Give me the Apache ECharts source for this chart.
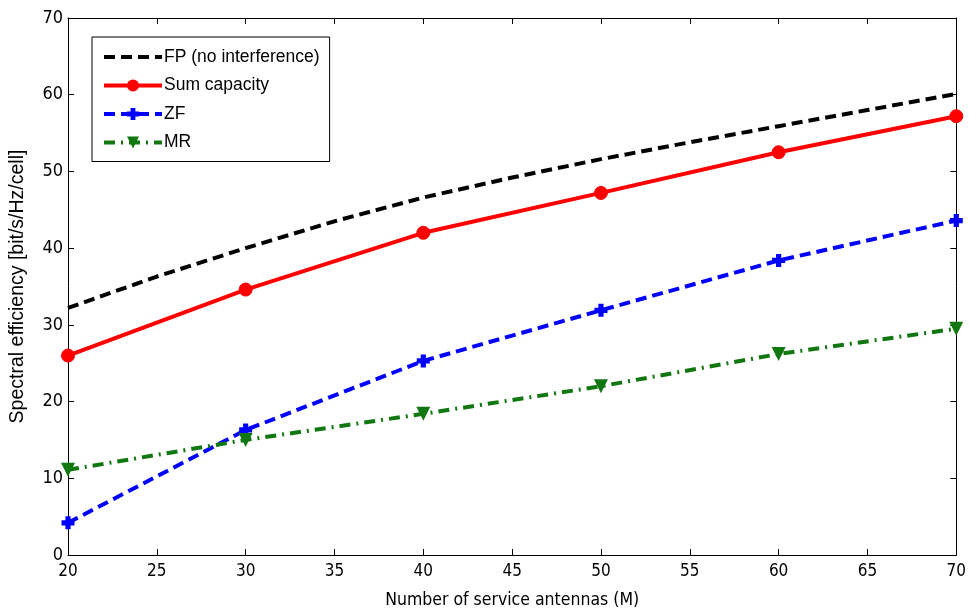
<!DOCTYPE html>
<html><head><meta charset="utf-8">
<script src="https://cdn.jsdelivr.net/npm/echarts@6/dist/echarts.min.js"></script>
<style>html,body{margin:0;padding:0;background:#fff}#c{width:969px;height:614px}</style>
</head><body><div id="c"></div>
<script>
const fpX = [20,25,30,35,40,45,50,55,60,65,70];
const fpY = [32.2,36.3,40.0,43.5,46.6,49.2,51.6,53.8,55.9,58.0,60.1];
const antennas = [20,30,40,50,60,70];
const sumCap = [26.0,34.6,42.0,47.2,52.5,57.2];
const zf = [4.2,16.3,25.3,31.9,38.4,43.6];
const mr = [11.1,15.0,18.4,22.0,26.2,29.5];
const seriesNames = ['FP (no interference)','Sum capacity','ZF','MR'];
const xTitle = 'Number of service antennas (M)';
const yTitle = 'Spectral efficiency [bit/s/Hz/cell]';

const pair = (xs, ys) => xs.map((x,i)=>[x, ys[i]]);
const font = '"DejaVu Sans Condensed","Liberation Sans Narrow","Liberation Sans",Arial,sans-serif';
const sans = '"Liberation Sans",Arial,sans-serif';
const plus = 'path://M3,0H7V3H10V7H7V10H3V7H0V3H3Z';

const chart = echarts.init(document.getElementById('c'));
const axisCommon = {
  axisLine:{show:true,onZero:false,lineStyle:{color:'#000',width:1}},
  axisTick:{show:true,inside:true,length:6,lineStyle:{color:'#000'}},
  splitLine:{show:false}
};
chart.setOption({
  animation:false,
  backgroundColor:'#fff',
  grid:{left:68,right:8,top:18,bottom:59},
  legend:{
    left:92, top:37, orient:'vertical', itemWidth:58, itemHeight:15, itemGap:10.5,
    padding:[11,10,10,10], borderColor:'#000', borderWidth:1, backgroundColor:'#fff',
    lineStyle:{width:4},
    textStyle:{fontFamily:sans,fontSize:17.5,color:'#000',padding:[0,0,0,-3]},
    data:[{name:seriesNames[0],itemStyle:{opacity:0}},seriesNames[1],seriesNames[2],seriesNames[3]]
  },
  xAxis:[
    Object.assign({type:'value',min:20,max:70,interval:5,position:'bottom',
      name:xTitle,nameLocation:'middle',nameGap:36,
      nameTextStyle:{fontFamily:font,fontSize:17.5,color:'#000'},
      axisLabel:{fontFamily:font,fontSize:17,color:'#000',margin:8}},axisCommon),
    Object.assign({type:'value',min:20,max:70,interval:5,position:'top',axisLabel:{show:false}},axisCommon)
  ],
  yAxis:[
    Object.assign({type:'value',min:0,max:70,interval:10,position:'left',
      name:yTitle,nameLocation:'middle',nameGap:40,
      nameTextStyle:{fontFamily:sans,fontSize:19.5,color:'#000'},
      axisLabel:{fontFamily:font,fontSize:18,color:'#000',margin:5}},axisCommon),
    Object.assign({type:'value',min:0,max:70,interval:10,position:'right',axisLabel:{show:false}},axisCommon)
  ],
  series:[
    {name:seriesNames[0],type:'line',data:pair(fpX,fpY),symbol:'none',
     itemStyle:{color:'#000'},lineStyle:{color:'#000',width:4,type:[11,6]}},
    {name:seriesNames[1],type:'line',data:pair(antennas,sumCap),symbol:'circle',symbolSize:13,
     itemStyle:{color:'#ff0000',borderColor:'#ff0000'},lineStyle:{color:'#ff0000',width:4}},
    {name:seriesNames[2],type:'line',data:pair(antennas,zf),symbol:plus,symbolSize:13,
     itemStyle:{color:'#0000ff'},lineStyle:{color:'#0000ff',width:4,type:[11,6]}},
    {name:seriesNames[3],type:'line',data:pair(antennas,mr),symbol:'triangle',symbolRotate:180,symbolSize:14,
     itemStyle:{color:'#117711'},lineStyle:{color:'#117711',width:4,type:[11,6,2,6]}}
  ]
});
</script></body></html>
